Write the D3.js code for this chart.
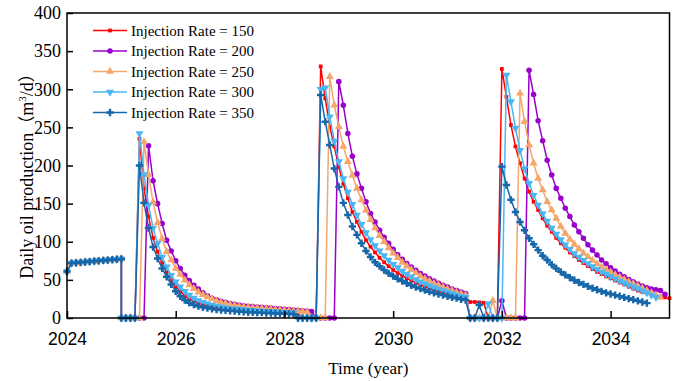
<!DOCTYPE html>
<html><head><meta charset="utf-8">
<script src="https://cdn.jsdelivr.net/npm/d3@7"></script>
<style>
html,body{margin:0;padding:0;background:#fff;}
svg{display:block;}
</style></head>
<body>
<svg id="chart" width="676" height="381"></svg>
<script>
// ---- DATA (monthly values from Jan 2024; [a,b] = same-month jump from a to b) ----
const startYear = 2024;
const commonStart = [61,72,72.5,73,73.5,74,74.5,75,75.5,76,76.5,77,[77.5,0]];

const rate150 = [0,0,0,
 235,170,133,105,87,72,60,50,41,35,29,25,22,19.5,17.5,16,14.5,13.5,12.5,11.5,11,10.5,10,9.5,9,8.5,8,8,7.5,7.5,7,7,6.5,6.5,6,6,
 0,0,0,0,
 330,288,251,225,198,176,157,139,126,113,102,93.5,86,79,73,68,63,59,55.5,52,49,46,43.5,41,39,37,35,33.5,32,30.5,29,27.5,26,
 21,21,20.5,20,
 0,0,0,
 326.6,290,253,225,203,183,165.6,152.5,141.6,130.7,121,113,105,98,92,86,81,76,72,68,64,60.5,57.5,54.5,52,49,46.5,44,41,38.5,36,34,32.5,31,29.5,28,27,26];

const rate200 = [0,0,0,0,0,
 226,180,150,124,102,88,75,65,56,49,43,38,33,29,26,24,22,20.5,19,18,17,16,15.5,15,14.5,14,13.5,13,12.5,12,11.5,11,10.5,10,9.5,9,8.5,
 0,0,0,0,0,
 310,279,242,212,189,170,152.5,137,126,115,106,98,90,83,77,71.5,67,62.5,58.5,55,51.5,48.5,45.5,43,40.5,38,36,34,32,
 0,0,0,0,0,0,0,
 22.7,
 0,0,0,0,0,
 325,293,258.8,232.6,207,187.5,170,157,144,133,122,113,104.5,96,89,82.6,76,71,66,61.5,57.5,54,50.5,47.5,44.5,42,39.5,38,37,36,31];

const rate250 = [0,0,0,0,
 231,188,152,125,104,87,76,65,57,49.5,43.5,38.5,34,30.5,27.5,25,22.5,20.5,19,17.5,16.5,15.5,14.5,14,13.5,13,12.5,12,11.5,11,10.5,10,9.5,9,9,8.5,8,
 0,0,0,0,
 316.5,279,251,225,205,187,170,155,141,129,118,108,100,92,85,79,73,68,63.5,59,55,51.5,48.5,45.5,43,40.5,38,36,34,32,30,
 0,0,0,0,0,
 22.7,
 0,0,0,0,0,
 294.7,257.5,227,203,183,168,152.5,141.6,130.7,120,111,103,96.5,90.5,85,80,75.5,71,67,63.5,60,56.5,53.5,50.5,47.5,45,42,39,36,33,30,27];

const rate300 = [0,0,0,
 242,188,148,118,98,80,67,56,47.5,41,35,30,26,23,20.5,18.5,17,15.5,14.5,13.5,12.5,12,11.5,11,10.5,10,9.5,9,8.5,8,8,7.5,7.5,7,7,
 0,0,0,0,0,
 300,302,264,232,205,183,165,149,135,123,112,103,95,88,82,76,70.5,66,61.5,57.5,54,50.5,47.5,45,42.5,40,38,36,34,32,30,28.5,27,
 0,0,0,0,
 19,
 0,0,0,
 318.7,283.7,249,220,196,176.6,161,148,137,127,118,110,103,96,90,84.5,80,75.5,71.5,67.5,64,60.5,57.5,54.5,51.5,48.5,46,43.5,41,38.5,36,33,30,27];

const rate350 = [0,0,0,
 200,151,118,93,78,65,54,44,35,28.5,23.5,20,17.5,15.5,14,13,12,11,10.5,10,9.5,9,8.5,8,7.5,7.5,7,7,6.5,6.5,6,6,5.5,5.5,5,
 0,0,0,0,0,
 292.5,257.5,227,196,172,151,135,120,109,98,88,80,73,68,63,58.5,55,51.5,48.5,45.5,43,40.5,38.5,36.5,34.5,33,31.5,30,28.5,27,26,24.5,23.5,
 0,0,
 17,
 0,0,0,0,
 198.5,174.4,155,139,126,115,104.5,96.6,89,81.7,76,70,65,60.5,56.5,53,49.5,46.5,44,41.5,39,37,35,33,31.5,30,28.5,27,25.5,24,22.5,21,19.5];

const seriesNames = ["Injection Rate = 150","Injection Rate = 200","Injection Rate = 250","Injection Rate = 300","Injection Rate = 350"];
const seriesValues = [rate150, rate200, rate250, rate300, rate350];
const seriesColors = ["#ff0000","#9a00cc","#f5a66b","#4cb6f5","#1667aa"];
const xTicks = [2024,2026,2028,2030,2032,2034];
const yTicks = [0,50,100,150,200,250,300,350,400];
const xDomain = [2024, 2035.0833];
const yDomain = [0, 400];

// ---- DRAW ----
const svg = d3.select("#chart");
const L = 67, R = 669.5, T = 13, B = 318;
const x = d3.scaleLinear().domain(xDomain).range([L, R]);
const y = d3.scaleLinear().domain(yDomain).range([B, T]);

function toPoints(vals){
  const pts = [];
  vals.forEach((v,i)=>{
    const t = startYear + i/12;
    if (Array.isArray(v)) { v.forEach(vv=>pts.push({t, v:vv})); }
    else pts.push({t, v});
  });
  return pts;
}

const symbols = [
  d3.symbol().type(d3.symbolSquare).size(14),
  d3.symbol().type(d3.symbolCircle).size(24),
  d3.symbol().type(d3.symbolTriangle).size(28),
  d3.symbol().type(d3.symbolTriangle).size(28),
  d3.symbol().type(d3.symbolCross).size(30)
];
const rotations = [0,0,0,180,0];

const line = d3.line().x(d=>x(d.t)).y(d=>y(d.v));
const plot = svg.append("g");
seriesValues.forEach((vals, k)=>{
  const pts = toPoints(commonStart.concat(vals));
  const g = plot.append("g");
  g.append("path").datum(pts).attr("d", line)
    .attr("fill","none").attr("stroke", seriesColors[k]).attr("stroke-width",1.5)
    .attr("stroke-linejoin","round");
  g.selectAll("path.m").data(pts).join("path").attr("class","m")
    .attr("d", symbols[k])
    .attr("transform", d=>`translate(${x(d.t)},${y(d.v)}) rotate(${rotations[k]})`)
    .attr("fill", seriesColors[k]);
});

// axes
const xAxis = d3.axisBottom(x).tickValues(xTicks).tickFormat(d3.format("d"))
  .tickSizeInner(-7).tickSizeOuter(0).tickPadding(15);
const gx = svg.append("g").attr("transform",`translate(0,${B})`).call(xAxis);
gx.selectAll("text").attr("font-family","Liberation Sans, Arial, sans-serif").attr("font-size",17.5).attr("fill","#000");
gx.selectAll("line").attr("stroke","#000").attr("stroke-width",1.5);
gx.select(".domain").remove();

const yAxis = d3.axisLeft(y).tickValues(yTicks).tickSizeInner(-6).tickSizeOuter(0).tickPadding(6);
const gy = svg.append("g").attr("transform",`translate(${L},0)`).call(yAxis);
gy.selectAll("text").attr("font-family","Liberation Serif, Times New Roman, serif").attr("font-size",18).attr("fill","#000");
gy.selectAll("line").attr("stroke","#000").attr("stroke-width",1.5);
gy.select(".domain").remove();

// frame
svg.append("rect").attr("x",L).attr("y",T).attr("width",R-L).attr("height",B-T)
  .attr("fill","none").attr("stroke","#000").attr("stroke-width",1.5);

// axis titles
svg.append("text").attr("x",(L+R)/2).attr("y",374).attr("text-anchor","middle")
  .attr("font-family","Liberation Serif, Times New Roman, serif").attr("font-size",17)
  .text("Time (year)");
const yl = svg.append("text").attr("transform","translate(33,172) rotate(-90)")
  .attr("text-anchor","middle")
  .attr("font-family","Liberation Serif, Times New Roman, serif").attr("font-size",18);
yl.append("tspan").text("Daily oil production");
yl.append("tspan").attr("font-family","Noto Sans CJK SC").attr("font-size",17).text("（");
yl.append("tspan").text("m");
yl.append("tspan").attr("dy",-7).attr("font-size",11).text("3");
yl.append("tspan").attr("dy",7).text("/d");
yl.append("tspan").attr("font-family","Noto Sans CJK SC").attr("font-size",17).text("）");

// legend
const legY = [30.5,51,71.5,92,112.5];
seriesNames.forEach((name,k)=>{
  const g = svg.append("g").attr("transform",`translate(0,${legY[k]})`);
  g.append("line").attr("x1",93).attr("x2",127).attr("y1",0).attr("y2",0)
    .attr("stroke",seriesColors[k]).attr("stroke-width",1.5);
  g.append("path").attr("d",symbols[k]).attr("transform",`translate(110,0) rotate(${rotations[k]})`)
    .attr("fill",seriesColors[k]);
  g.append("text").attr("x",131).attr("y",5).attr("font-family","Liberation Serif, Times New Roman, serif")
    .attr("font-size",15).text(name);
});
</script>
</body></html>
